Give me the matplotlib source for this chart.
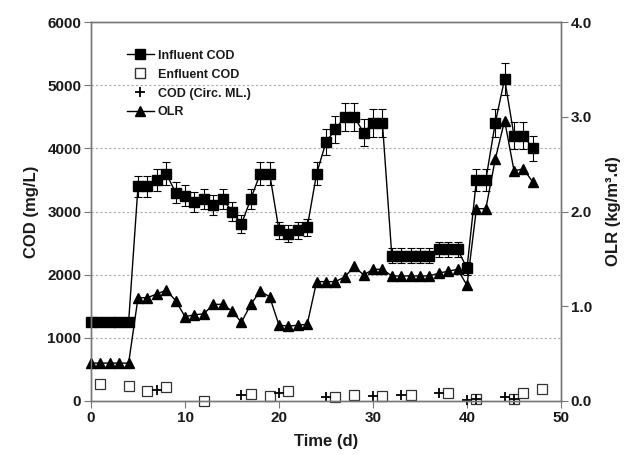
import matplotlib
matplotlib.use("Agg")
import matplotlib.pyplot as plt
from matplotlib.lines import Line2D

plt.rcParams['font.family'] = ['Liberation Sans', 'DejaVu Sans']
plt.rcParams['font.weight'] = 'bold'
plt.rcParams['axes.labelweight'] = 'bold'

# influent COD (mg/L) with error bars
inf_days = list(range(48))
inf_cod = [1250, 1250, 1250, 1250, 1250,
           3400, 3400, 3500, 3600, 3300, 3250, 3150, 3200, 3100, 3200,
           3000, 2800, 3200, 3600, 3600, 2700, 2650, 2700, 2750, 3600,
           4100, 4300, 4500, 4500, 4250, 4400, 4400, 2300, 2300, 2300,
           2300, 2300, 2400, 2400, 2400, 2100, 3500, 3500, 4400, 5100,
           4200, 4200, 4000]
inf_err = [v * 0.05 for v in inf_cod]

# effluent COD (mg/L)
eff_days = [1, 4, 6, 8, 12, 17, 19, 21, 26, 28, 31, 34, 38, 41, 45, 46, 48]
eff_cod = [270, 230, 165, 215, 0, 105, 85, 165, 70, 95, 75, 95, 120, 30, 30, 130, 185]

# COD in circulating mixed liquor (mg/L)
circ_days = [7, 16, 20, 25, 30, 33, 37, 40, 41, 44, 45]
circ_cod = [175, 95, 130, 70, 75, 95, 120, 15, 30, 70, 30]

# organic loading rate (kg/m3.d)
olr_days = list(range(48))
olr = [0.40, 0.40, 0.40, 0.40, 0.40,
       1.09, 1.09, 1.13, 1.17, 1.06, 0.89, 0.91, 0.92, 1.02, 1.02,
       0.95, 0.83, 1.02, 1.16, 1.10, 0.80, 0.79, 0.80, 0.81, 1.26,
       1.26, 1.26, 1.31, 1.42, 1.33, 1.39, 1.39, 1.32, 1.32, 1.32,
       1.32, 1.32, 1.35, 1.37, 1.39, 1.22, 2.03, 2.03, 2.55, 2.96,
       2.43, 2.45, 2.31]

txt = '#1a1a1a'
fig = plt.figure(figsize=(6.26, 4.55), dpi=100)
ax = fig.add_axes([0.1454, 0.1187, 0.7508, 0.8329])
ax2 = ax.twinx()

ax.errorbar(inf_days, inf_cod, yerr=inf_err, fmt='-s', color='k', ms=7,
            lw=1, elinewidth=0.8, capsize=3, capthick=0.8, clip_on=False)
ax.plot(eff_days, eff_cod, 's', ms=6.5, mfc='white', mec='#333333', mew=0.9,
        clip_on=False)
ax.plot(circ_days, circ_cod, '+', ms=7, color='k', mew=1.3, clip_on=False)
ax2.plot(olr_days, olr, '-^', color='k', ms=7, lw=1, clip_on=False)

ax.set_xlim(0, 50)
ax.set_ylim(0, 6000)
ax2.set_ylim(0, 4.0)
ax.set_xticks([0, 10, 20, 30, 40, 50])
ax.set_yticks([0, 1000, 2000, 3000, 4000, 5000, 6000])
ax2.set_yticks([0, 1, 2, 3, 4])
ax2.set_yticklabels(['0.0', '1.0', '2.0', '3.0', '4.0'])

for y in [1000, 2000, 3000, 4000, 5000]:
    ax.axhline(y, color='#aaaaaa', lw=0.8, ls=(0, (2, 2)), zorder=0)

for a in (ax, ax2):
    for s in a.spines.values():
        s.set_color('#777777')
        s.set_linewidth(1.0)
    a.tick_params(direction='out', length=5, pad=2, color='#777777',
                  labelsize=11, labelcolor=txt)

ax.set_xlabel('Time (d)', fontsize=12, color=txt, labelpad=7)
ax.set_ylabel('COD (mg/L)', fontsize=12, color=txt, labelpad=6)
ax2.set_ylabel('OLR (kg/m³.d)', fontsize=12, color=txt, labelpad=10)

handles = [
    Line2D([], [], color='k', marker='s', ms=7, lw=1),
    Line2D([], [], color='none', marker='s', ms=6.5, mfc='white', mec='#333333'),
    Line2D([], [], color='none', marker='+', ms=7, mec='k', mew=1.3),
    Line2D([], [], color='k', marker='^', ms=7, lw=1),
]
labels = ['Influent COD', 'Enfluent COD', 'COD (Circ. ML.)', 'OLR']
leg = ax2.legend(handles, labels, loc='upper left', bbox_to_anchor=(0.065, 0.94),
                 frameon=False, fontsize=9, handlelength=2.2, handletextpad=0.3,
                 labelspacing=0.55, borderaxespad=0)
for t in leg.get_texts():
    t.set_color(txt)

fig.savefig('out.png', dpi=100)
